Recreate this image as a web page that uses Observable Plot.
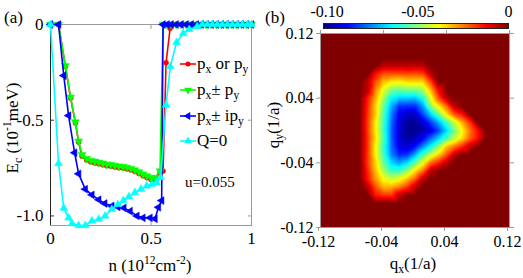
<!DOCTYPE html>
<html><head><meta charset="utf-8">
<script src="https://cdn.jsdelivr.net/npm/d3@7"></script>
<script src="https://cdn.jsdelivr.net/npm/@observablehq/plot@0.6"></script>
<style>
body{margin:0;background:#fff;}
#root{position:relative;width:523px;height:278px;font-family:"Liberation Serif","Times New Roman",serif;color:#000;overflow:hidden;background:#fff}
#root svg, #root svg text{font-family:"Liberation Serif","Times New Roman",serif !important}
.t{position:absolute;white-space:nowrap;line-height:1;font-size:17px}
sub,sup{font-size:68%;line-height:0}
.rot{transform:translate(-50%,-50%) rotate(-90deg)}
.ctr{transform:translate(-50%,-50%)}
</style></head><body><div id="root"></div>
<script>
// ---------- panel (a) data ----------
const xTicks = [0, 0.5, 1];
const xTickLabels = ["0", "0.5", "1"];
const yTicks = [0, -0.5, -1];
const yTickLabels = ["0", "-0.5", "-1.0"];

const nPxOrPy = [0, 0.04, 0.074, 0.1, 0.124, 0.14, 0.157, 0.18, 0.2, 0.22, 0.24, 0.26, 0.28, 0.3, 0.32, 0.34, 0.36, 0.38, 0.4, 0.42, 0.44, 0.46, 0.48, 0.5, 0.52, 0.545, 0.56, 0.575, 0.595, 0.625, 0.65, 0.675, 0.7, 0.725, 0.75, 0.775, 0.8, 0.825, 0.85, 0.875, 0.9, 0.925, 0.95, 0.975, 1];
const ePxOrPy = [0, 0, -0.22, -0.385, -0.515, -0.615, -0.688, -0.708, -0.718, -0.723, -0.728, -0.733, -0.738, -0.74, -0.744, -0.748, -0.75, -0.755, -0.76, -0.768, -0.778, -0.79, -0.8, -0.81, -0.81, -0.775, -0.765, -0.2, -0.02, 0, 0, 0, 0, 0, 0, 0, 0, 0, 0, 0, 0, 0, 0, 0, 0];

const nPxPmPy = [0, 0.04, 0.074, 0.1, 0.124, 0.14, 0.157, 0.18, 0.2, 0.22, 0.24, 0.26, 0.28, 0.3, 0.32, 0.34, 0.36, 0.38, 0.4, 0.42, 0.44, 0.46, 0.48, 0.5, 0.52, 0.545, 0.56, 0.58, 0.6, 0.625, 0.65, 0.675, 0.7, 0.725, 0.75, 0.775, 0.8, 0.825, 0.85, 0.875, 0.9, 0.925, 0.95, 0.975, 1];
const ePxPmPy = [0, 0, -0.215, -0.38, -0.51, -0.61, -0.68, -0.7, -0.71, -0.715, -0.72, -0.725, -0.73, -0.732, -0.736, -0.74, -0.742, -0.747, -0.752, -0.76, -0.77, -0.782, -0.792, -0.8, -0.8, -0.765, 0, 0, 0, 0, 0, 0, 0, 0, 0, 0, 0, 0, 0, 0, 0, 0, 0, 0, 0];

const nPxPmIPy = [0, 0.04, 0.066, 0.09, 0.12, 0.14, 0.173, 0.206, 0.24, 0.27, 0.305, 0.335, 0.365, 0.396, 0.43, 0.46, 0.495, 0.52, 0.537, 0.553, 0.56, 0.58, 0.6, 0.625, 0.65, 0.675, 0.7, 0.725, 0.75, 0.775, 0.8, 0.825, 0.85, 0.875, 0.9, 0.925, 0.95, 0.975, 1];
const ePxPmIPy = [0, 0, -0.267, -0.476, -0.67, -0.78, -0.86, -0.89, -0.915, -0.935, -0.948, -0.953, -0.958, -0.975, -1.0, -1.01, -1.01, -1.015, -0.955, -0.92, 0, 0, 0, 0, 0, 0, 0, 0, 0, 0, 0, 0, 0, 0, 0, 0, 0, 0, 0];

const nQ0 = [0, 0.04, 0.066, 0.09, 0.107, 0.14, 0.173, 0.206, 0.24, 0.272, 0.305, 0.335, 0.363, 0.39, 0.42, 0.45, 0.479, 0.505, 0.528, 0.548, 0.575, 0.596, 0.627, 0.66, 0.69, 0.73, 0.755, 0.78, 0.805, 0.83, 0.855, 0.88, 0.905, 0.93, 0.955, 0.98, 1];
const eQ0 = [0, -0.726, -0.96, -1.01, -1.04, -1.05, -1.05, -1.026, -1.017, -1.0, -0.965, -0.94, -0.92, -0.9, -0.878, -0.86, -0.843, -0.835, -0.826, -0.8, -0.42, -0.22, -0.094, -0.047, -0.026, -0.01, 0, 0, 0, 0, 0, 0, 0, 0, 0, 0, 0];

const seriesNames = ["p<sub>x</sub> or p<sub>y</sub>", "p<sub>x</sub>\u00b1 p<sub>y</sub>", "p<sub>x</sub>\u00b1 ip<sub>y</sub>", "Q=0"];
const seriesColors = ["#ff0000", "#00ff00", "#0000ff", "#00ffff"];
const uLabel = "u=0.055";

// ---------- panel (b) data ----------
const qTicks = [-0.12, -0.04, 0.04, 0.12];
const qTickLabels = ["-0.12", "-0.04", "0.04", "0.12"];
const cbTicks = [-0.10, -0.05, 0];
const cbTickLabels = ["-0.10", "-0.05", "0"];
const qxValues = [-0.12, -0.11, -0.10, -0.09, -0.08, -0.07, -0.06, -0.05, -0.04, -0.03, -0.02, -0.01, 0, 0.01, 0.02, 0.03, 0.04, 0.05, 0.06, 0.07, 0.08, 0.09, 0.10, 0.11, 0.12];
const qyValues = [0.12, 0.11, 0.10, 0.09, 0.08, 0.07, 0.06, 0.05, 0.04, 0.03, 0.02, 0.01, 0, -0.01, -0.02, -0.03, -0.04, -0.05, -0.06, -0.07, -0.08, -0.09, -0.10, -0.11, -0.12];
// E_c (10^-1 meV) on the grid, rows = qy (top to bottom), columns = qx (left to right)
const ecGrid = [
 [0,0,0,0,0,0,0,0,0,0,0,0,0,0,0,0,0,0,0,0,0,0,0,0,0],
 [0,0,0,0,0,0,0,0,0,0,0,0,0,0,0,0,0,0,0,0,0,0,0,0,0],
 [0,0,0,0,0,0,0,0,0,0,0,0,0,0,0,0,0,0,0,0,0,0,0,0,0],
 [0,0,0,0,0,0,0,0,0,0,0,0,0,0,0,0,0,0,0,0,0,0,0,0,0],
 [0,0,0,0,0,0,0,0,-.006,-.006,-.006,-.006,-.006,-.006,0,0,0,0,0,0,0,0,0,0,0],
 [0,0,0,0,0,0,0,-.014,-.021,-.021,-.021,-.020,-.021,-.020,-.006,0,0,0,0,0,0,0,0,0,0],
 [0,0,0,0,0,0,-.006,-.021,-.032,-.037,-.038,-.035,-.035,-.034,-.020,0,0,0,0,0,0,0,0,0,0],
 [0,0,0,0,0,0,-.006,-.026,-.041,-.052,-.054,-.052,-.052,-.048,-.031,-.012,0,0,0,0,0,0,0,0,0],
 [0,0,0,0,0,0,-.015,-.030,-.048,-.064,-.069,-.069,-.070,-.061,-.041,-.020,-.006,0,0,0,0,0,0,0,0],
 [0,0,0,0,0,0,-.017,-.034,-.053,-.072,-.085,-.085,-.085,-.074,-.050,-.037,-.023,-.006,0,0,0,0,0,0,0],
 [0,0,0,0,0,0,-.018,-.033,-.056,-.076,-.091,-.096,-.096,-.082,-.068,-.053,-.036,-.021,-.014,0,0,0,0,0,0],
 [0,0,0,0,0,0,-.019,-.037,-.057,-.078,-.093,-.101,-.101,-.094,-.083,-.072,-.058,-.044,-.030,-.018,0,0,0,0,0],
 [0,0,0,0,0,0,-.019,-.037,-.058,-.079,-.094,-.101,-.102,-.099,-.093,-.082,-.068,-.052,-.038,-.024,-.013,0,0,0,0],
 [0,0,0,0,0,0,-.018,-.035,-.056,-.079,-.094,-.100,-.097,-.090,-.078,-.068,-.056,-.045,-.034,-.022,-.013,0,0,0,0],
 [0,0,0,0,0,0,-.018,-.038,-.059,-.078,-.092,-.095,-.088,-.075,-.063,-.048,-.032,-.024,-.016,-.006,0,0,0,0,0],
 [0,0,0,0,0,0,-.019,-.038,-.057,-.076,-.086,-.084,-.072,-.056,-.044,-.033,-.021,-.006,0,0,0,0,0,0,0],
 [0,0,0,0,0,0,-.019,-.034,-.053,-.068,-.073,-.067,-.054,-.040,-.023,-.016,-.006,0,0,0,0,0,0,0,0],
 [0,0,0,0,0,0,-.016,-.032,-.048,-.058,-.058,-.049,-.036,-.024,-.006,0,0,0,0,0,0,0,0,0,0],
 [0,0,0,0,0,0,-.015,-.028,-.039,-.044,-.040,-.032,-.022,-.006,0,0,0,0,0,0,0,0,0,0,0],
 [0,0,0,0,0,0,-.006,-.021,-.031,-.030,-.025,-.018,-.006,0,0,0,0,0,0,0,0,0,0,0,0],
 [0,0,0,0,0,0,0,-.015,-.018,-.018,-.006,0,0,0,0,0,0,0,0,0,0,0,0,0,0],
 [0,0,0,0,0,0,0,0,0,0,0,0,0,0,0,0,0,0,0,0,0,0,0,0,0],
 [0,0,0,0,0,0,0,0,0,0,0,0,0,0,0,0,0,0,0,0,0,0,0,0,0],
 [0,0,0,0,0,0,0,0,0,0,0,0,0,0,0,0,0,0,0,0,0,0,0,0,0],
 [0,0,0,0,0,0,0,0,0,0,0,0,0,0,0,0,0,0,0,0,0,0,0,0,0]
];
// MATLAB "jet" colour stops
const jetStops = [-0.102, -0.08925, -0.06375, -0.03825, -0.01275, 0];
const jetColors = ["#00008f", "#0000ff", "#00ffff", "#ffff00", "#ff0000", "#800000"];

// ---------- build ----------
const root = document.getElementById("root");
const FONT = '"Liberation Serif","Times New Roman",serif';
function put(node, left, top) { node.style.position = "absolute"; node.style.left = left + "px"; node.style.top = top + "px"; root.appendChild(node); }
function txt(html, left, top, cls = "", size = 17) { const d = document.createElement("div"); d.className = "t " + cls; d.innerHTML = html; d.style.fontSize = size + "px"; put(d, left, top); return d; }
function serif(svg, size) { d3.select(svg).selectAll("text").attr("font-family", FONT).style("font-family", FONT).style("font-size", size + "px"); return svg; }

const series = [
  {n: nPxOrPy, e: ePxOrPy, symbol: "circle", rotate: 0, r: 2.5},
  {n: nPxPmPy, e: ePxPmPy, symbol: "triangle", rotate: 180, r: 2.9},
  {n: nPxPmIPy, e: ePxPmIPy, symbol: "triangle", rotate: -90, r: 2.9},
  {n: nQ0, e: eQ0, symbol: "triangle", rotate: 0, r: 2.9}
].map((s, i) => ({...s, color: seriesColors[i], data: s.n.map((n, j) => ({n, e: s.e[j]}))}));

const lineMarks = series.flatMap(s => [
  Plot.line(s.data, {x: "n", y: "e", stroke: s.color, strokeWidth: 1.6}),
  Plot.dot(s.data, {x: "n", y: "e", symbol: s.symbol, rotate: s.rotate, r: s.r, fill: s.color, stroke: s.color, strokeWidth: 0.5})
]);

const baseStyle = {fontFamily: FONT, fontSize: "17px", background: "transparent", color: "#000", overflow: "visible"};

const plotA = Plot.plot({
  width: 260, height: 278, marginLeft: 50, marginRight: 9, marginTop: 24, marginBottom: 53,
  style: baseStyle,
  x: {domain: [0, 1]},
  y: {domain: [-1.05, 0]},
  marks: [
    Plot.frame({stroke: "#9a9a9a"}),
    Plot.axisX({anchor: "bottom", ticks: xTicks, tickFormat: (d, i) => xTickLabels[i], tickSize: -4, tickPadding: 10, stroke: "#9a9a9a", fill: "#000", label: null}),
    Plot.axisX({anchor: "top", ticks: xTicks, tickFormat: () => "", tickSize: -4, stroke: "#9a9a9a", label: null}),
    Plot.axisY({anchor: "left", ticks: yTicks, tickFormat: (d, i) => yTickLabels[i], tickSize: -4, tickPadding: 11, stroke: "#333", fill: "#000", label: null}),
    Plot.axisY({anchor: "right", ticks: yTicks, tickFormat: () => "", tickSize: -4, stroke: "#9a9a9a", label: null}),
    Plot.ruleX([0], {stroke: "#222"}),
    ...lineMarks
  ]
});
put(serif(plotA, 17), 0, 0);

const colorScale = {type: "linear", domain: jetStops, range: jetColors, interpolate: "rgb", clamp: true};
const cells = [];
qyValues.forEach((qy, r) => qxValues.forEach((qx, c) => cells.push({qx, qy, v: ecGrid[r][c]})));

const plotB = Plot.plot({
  width: 263, height: 278, marginLeft: 60, marginRight: 14, marginTop: 33, marginBottom: 51,
  style: baseStyle,
  x: {domain: [-0.12, 0.12]},
  y: {domain: [-0.12, 0.12]},
  color: colorScale,
  marks: [
    Plot.raster(cells, {x: "qx", y: "qy", fill: "v", interpolate: "barycentric", x1: -0.12, x2: 0.12, y1: -0.12, y2: 0.12}),
    Plot.frame({stroke: "#9a9a9a"}),
    Plot.axisX({anchor: "bottom", ticks: qTicks, tickFormat: (d, i) => qTickLabels[i], tickSize: 4, tickPadding: 4, dx: -2, stroke: "#9a9a9a", fill: "#000", label: null}),
    Plot.axisX({anchor: "top", ticks: qTicks, tickFormat: () => "", tickSize: 4, stroke: "#9a9a9a", label: null}),
    Plot.axisY({anchor: "left", ticks: qTicks, tickFormat: (d, i) => qTickLabels[i], tickSize: 4, tickPadding: 3, stroke: "#9a9a9a", fill: "#000", label: null}),
    Plot.axisY({anchor: "right", ticks: qTicks, tickFormat: () => "", tickSize: 4, stroke: "#9a9a9a", label: null})
  ]
});
put(serif(plotB, 16), 260, 0);

const plotCB = Plot.plot({
  width: 223, height: 30, marginLeft: 23, marginRight: 15, marginTop: 23, marginBottom: 2,
  style: baseStyle,
  x: {domain: [-0.102, 0]},
  y: {domain: [0, 1], axis: null},
  color: colorScale,
  marks: [
    Plot.raster({fill: (x, y) => x, x1: -0.102, x2: 0, y1: 0, y2: 1}),
    Plot.frame({stroke: "#222"}),
    Plot.axisX({anchor: "top", ticks: cbTicks, tickFormat: (d, i) => cbTickLabels[i], tickSize: 0, tickPadding: 7, fill: "#000", label: null})
  ]
});
put(serif(plotCB, 16), 300, 0);

// ---------- texts ----------
txt("(a)", 4, 9);
txt("(b)", 265, 9);
txt("E<sub>c</sub> (10<sup>-1</sup>meV)", 12, 128, "rot");
txt("n (10<sup>12</sup>cm<sup>-2</sup>)", 150, 265, "ctr");
txt(uLabel, 185, 175, "", 15);
txt("q<sub>y</sub>(1/a)", 273, 125, "rot");
txt("q<sub>x</sub>(1/a)", 413, 263, "ctr");

// ---------- legend ----------
const legendY = [64, 90, 116, 141];
series.forEach((s, i) => {
  const svg = d3.create("svg").attr("width", 18).attr("height", 10);
  svg.append("line").attr("x1", 0).attr("x2", 16).attr("y1", 5).attr("y2", 5).attr("stroke", s.color).attr("stroke-width", 1.6);
  const sym = s.symbol === "circle" ? d3.symbolCircle : d3.symbolTriangle;
  svg.append("path").attr("d", d3.symbol(sym, Math.PI * s.r * s.r)()).attr("transform", `translate(8,5) rotate(${s.rotate})`).attr("fill", s.color);
  put(svg.node(), 180, legendY[i] - 5);
  const d = txt(seriesNames[i], 197, legendY[i], "", 17);
  d.style.transform = "translateY(-55%)";
});
</script></body></html>
